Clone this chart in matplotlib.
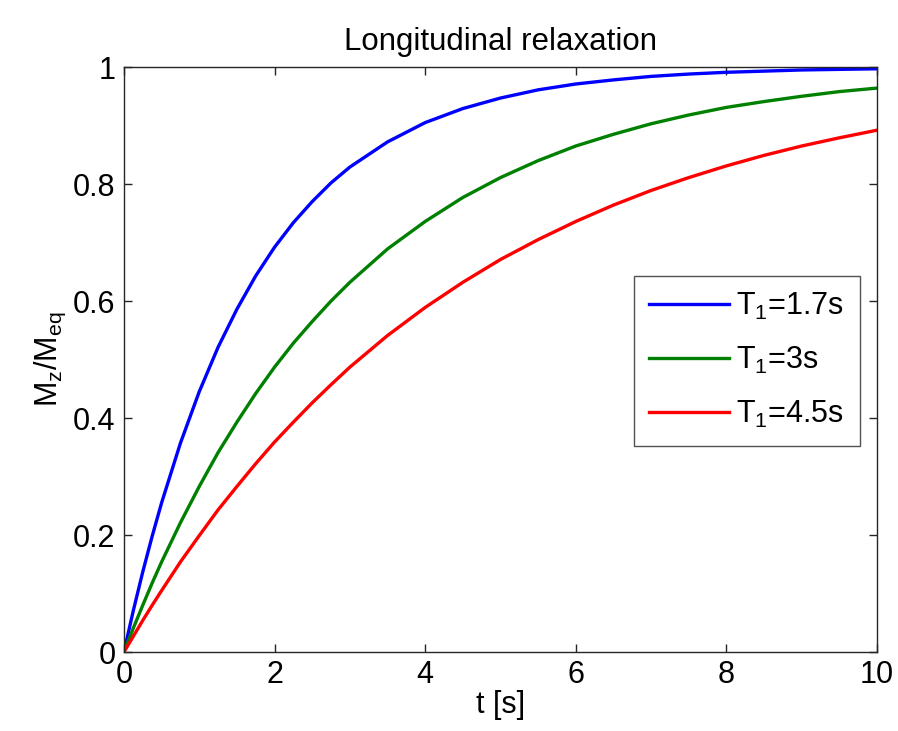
import matplotlib
matplotlib.use("Agg")
import matplotlib.pyplot as plt

plt.rcParams['font.family'] = ['Liberation Sans', 'DejaVu Sans']
plt.rcParams['mathtext.fontset'] = 'custom'
plt.rcParams['mathtext.rm'] = 'Liberation Sans'
plt.rcParams['mathtext.default'] = 'regular'

# time points [s]
t = [0, 0.125, 0.25, 0.375, 0.5, 0.75, 1, 1.25, 1.5, 1.75, 2, 2.25, 2.5, 2.75, 3,
     3.5, 4, 4.5, 5, 5.5, 6, 6.5, 7, 7.5, 8, 8.5, 9, 9.5, 10]

# Mz/Meq for each curve
m_17 = [0, 0.071, 0.137, 0.198, 0.255, 0.357, 0.445, 0.521, 0.586, 0.643, 0.692, 0.734, 0.770, 0.802, 0.829,
        0.872, 0.905, 0.929, 0.947, 0.961, 0.971, 0.978, 0.984, 0.988, 0.991, 0.993, 0.995, 0.996, 0.997]
m_3 = [0, 0.041, 0.080, 0.118, 0.154, 0.221, 0.283, 0.341, 0.393, 0.442, 0.487, 0.528, 0.565, 0.600, 0.632,
       0.689, 0.736, 0.777, 0.811, 0.840, 0.865, 0.885, 0.903, 0.918, 0.931, 0.941, 0.950, 0.958, 0.964]
m_45 = [0, 0.027, 0.054, 0.080, 0.105, 0.154, 0.199, 0.243, 0.283, 0.322, 0.359, 0.393, 0.426, 0.457, 0.487,
        0.541, 0.589, 0.632, 0.671, 0.705, 0.736, 0.764, 0.789, 0.811, 0.831, 0.849, 0.865, 0.879, 0.892]

labels = ['T$_1$=1.7s', 'T$_1$=3s', 'T$_1$=4.5s']

fig = plt.figure(figsize=(8.98, 7.31), dpi=100)
ax = fig.add_axes([0.138, 0.108, 0.8386, 0.8003])

ax.plot(t, m_17, color='#0000ff', lw=2.4, label=labels[0])
ax.plot(t, m_3, color='#008000', lw=2.4, label=labels[1])
ax.plot(t, m_45, color='#ff0000', lw=2.4, label=labels[2])

ax.set_xlim(0, 10)
ax.set_ylim(0, 1)
ax.set_xticks([0, 2, 4, 6, 8, 10])
ax.set_yticks([0, 0.2, 0.4, 0.6, 0.8, 1])
ax.set_yticklabels(['0', '0.2', '0.4', '0.6', '0.8', '1'])
ax.tick_params(direction='in', top=True, right=True, length=6, width=1,
               labelsize=22, pad=6, color='#262626')
for s in ax.spines.values():
    s.set_color('#262626')
    s.set_linewidth(1)

ax.set_title('Longitudinal relaxation', fontsize=22.5, pad=12)
ax.set_xlabel('t [s]', fontsize=22, labelpad=0)
ax.set_ylabel('M$_z$/M$_{eq}$', fontsize=22, labelpad=4)

leg = ax.legend(loc='center right', bbox_to_anchor=(0.977, 0.498), fontsize=22,
                frameon=True, fancybox=False, edgecolor='#262626', borderaxespad=0,
                handlelength=2.6, handletextpad=0.25, labelspacing=0.75, borderpad=0.5)
leg.get_frame().set_linewidth(1)

fig.savefig('out.png', dpi=100)
